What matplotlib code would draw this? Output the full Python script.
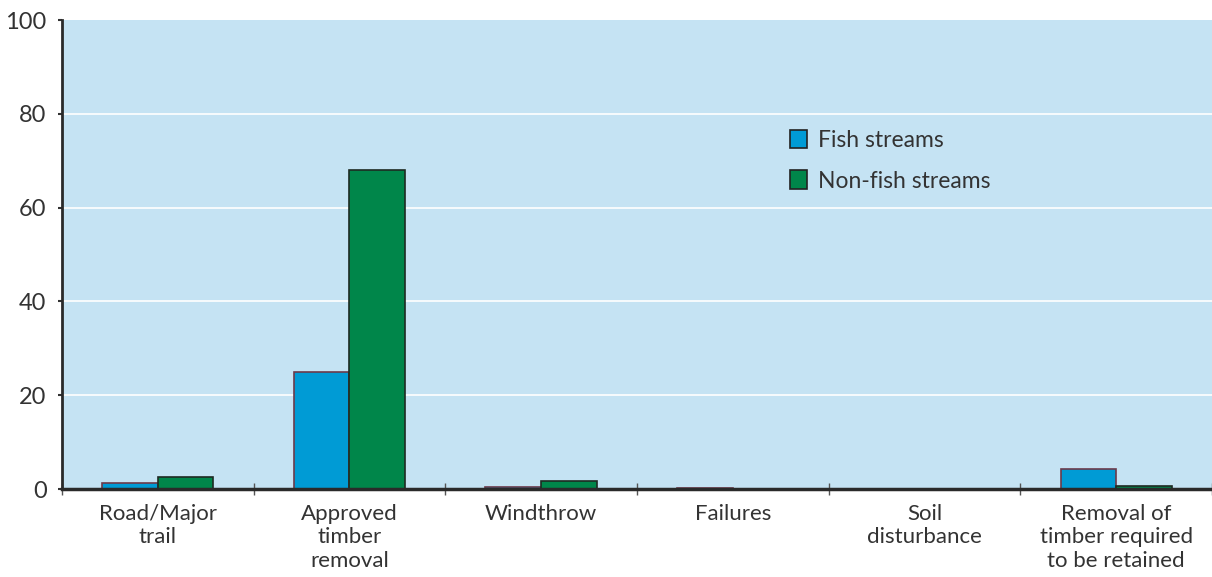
import matplotlib
matplotlib.use("Agg")
import matplotlib.pyplot as plt
import numpy as np

categories = ["Road/Major\ntrail", "Approved\ntimber\nremoval", "Windthrow", "Failures",
              "Soil\ndisturbance", "Removal of\ntimber required\nto be retained"]
fish = [1.2, 25, 0.5, 0.3, 0, 4.3]
nonfish = [2.5, 68, 1.8, 0, 0, 0.6]
series_names = ["Fish streams", "Non-fish streams"]
yticks = [0, 20, 40, 60, 80, 100]

plt.rcParams['font.family'] = ['Lato', 'DejaVu Sans']

fig = plt.figure(figsize=(12.12, 5.77), dpi=100)
ax = fig.add_axes([0.051, 0.1525, 0.949, 0.8125])
ax.set_facecolor("#c5e3f3")

x = np.arange(len(categories))
w = 0.29
ax.bar(x - w/2, fish, w, color="#009bd5", edgecolor="#6b3a4a", linewidth=1.2,
       label=series_names[0], zorder=3)
ax.bar(x + w/2, nonfish, w, color="#00864a", edgecolor="#1e2a22", linewidth=1.2,
       label=series_names[1], zorder=3)

ax.set_xlim(-0.5, len(categories) - 0.5)
ax.set_ylim(0, 100)
ax.set_yticks(yticks)
ax.set_yticklabels([str(v) for v in yticks], fontsize=17, color="#333333")
for v in yticks[1:-1]:
    ax.axhline(v, color="white", linewidth=1.2, zorder=1)

ax.set_xticks(x)
ax.set_xticklabels(categories, fontsize=16, color="#333333", linespacing=1.2)
ax.tick_params(axis='x', length=0, pad=11)
ax.set_xticks(np.arange(len(categories) + 1) - 0.5, minor=True)
ax.tick_params(axis='x', which='minor', length=8, direction='inout', color="#555555", width=1)
ax.tick_params(axis='y', length=3, direction='out', color="#333333", width=1.5, pad=8)

for s in ["top", "right"]:
    ax.spines[s].set_visible(False)
ax.spines["left"].set_color("#2a2a2a")
ax.spines["left"].set_linewidth(2)
ax.spines["bottom"].set_color("#2a2a2a")
ax.spines["bottom"].set_linewidth(2.5)
ax.spines["bottom"].set_zorder(4)

leg = ax.legend(loc="upper left", bbox_to_anchor=(0.615, 0.81), frameon=False,
                fontsize=16.5, handlelength=0.75, handleheight=0.85, handletextpad=0.5,
                labelspacing=0.85, labelcolor="#333333")
for p in leg.get_patches():
    p.set_edgecolor("#222222")
    p.set_linewidth(1.2)

fig.savefig("out.png", dpi=100)
